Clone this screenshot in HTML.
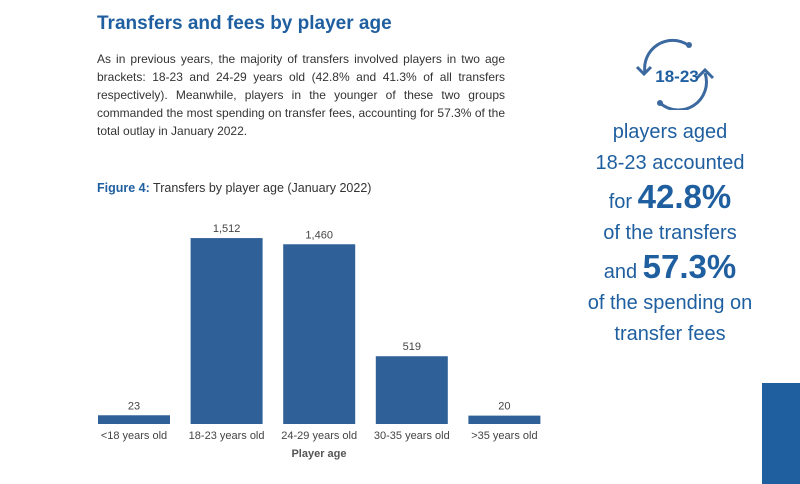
<!DOCTYPE html>
<html><head><meta charset="utf-8"><style>
body{margin:0;width:800px;height:484px;background:#fff;position:relative;overflow:hidden;font-family:"Liberation Sans",sans-serif;}
.abs{position:absolute;}
h1{position:absolute;left:97px;top:13px;margin:0;font-size:19px;color:#1f5fa0;font-weight:bold;}
.intro{left:97px;top:50px;width:408px;font-size:12px;line-height:18px;color:#333;text-align:justify;}
.fig{left:97px;top:181px;font-size:12.5px;color:#333;}
.fig b{color:#1f5fa0;}
.side{left:550px;width:240px;text-align:center;color:#1f5fa0;font-size:20px;line-height:31px;top:117px;}
.big{font-size:33px;font-weight:bold;line-height:36px;}
</style></head><body>
<h1>Transfers and fees by player age</h1>
<div class="abs intro">As in previous years, the majority of transfers involved players in two age brackets: 18-23 and 24-29 years old (42.8% and 41.3% of all transfers respectively). Meanwhile, players in the younger of these two groups commanded the most spending on transfer fees, accounting for 57.3% of the total outlay in January 2022.</div>
<div class="abs fig"><b>Figure 4:</b> Transfers by player age (January 2022)</div>
<svg class="abs" style="left:630px;top:36px" width="90" height="74">
<path d="M58 9 A28 28 0 0 0 15 37" fill="none" stroke="#3c6aa0" stroke-width="3"/>
<circle cx="59" cy="9" r="3" fill="#3c6aa0"/>
<path d="M7 31 L14 38 L21 31" fill="none" stroke="#3c6aa0" stroke-width="3"/>
<path d="M30 67 A28 28 0 0 0 75 37" fill="none" stroke="#3c6aa0" stroke-width="3"/>
<circle cx="30" cy="67" r="3" fill="#3c6aa0"/>
<path d="M67 42 L75 34 L83 42" fill="none" stroke="#3c6aa0" stroke-width="3"/>
<text x="47" y="46" text-anchor="middle" font-family="Liberation Sans" font-weight="bold" font-size="17" fill="#1f5fa0">18-23</text>
</svg>
<div class="abs side">players aged<br>18-23 accounted<br>for <span class="big">42.8%</span><br>of the transfers<br>and <span class="big">57.3%</span><br>of the spending on<br>transfer fees</div>
<div class="abs" style="left:762px;top:383px;width:38px;height:101px;background:#1f5fa0"></div>
<svg id="chart" class="abs" style="left:0;top:0" width="600" height="484"></svg>
<script>
const categories=["<18 years old","18-23 years old","24-29 years old","30-35 years old",">35 years old"];
const values=[23,1512,1460,519,20];
const labels=["23","1,512","1,460","519","20"];
const svg=document.getElementById('chart');
const NS="http://www.w3.org/2000/svg";
const base=424,x0=98,pitch=92.6,bw=72;
function y(v){return base-(6+v*0.119);}
function xb(i){return x0+i*pitch;}
categories.forEach((c,i)=>{
 const r=document.createElementNS(NS,'rect');
 r.setAttribute('x',xb(i));r.setAttribute('y',y(values[i]));r.setAttribute('width',bw);r.setAttribute('height',base-y(values[i]));r.setAttribute('fill','#2f6097');
 
 
 svg.appendChild(r);
 const t=document.createElementNS(NS,'text');
 t.setAttribute('x',xb(i)+bw/2);t.setAttribute('y',y(values[i])-6);t.setAttribute('text-anchor','middle');t.setAttribute('font-size','11');t.setAttribute('fill','#444');t.setAttribute('font-family','Liberation Sans');
 t.textContent=labels[i];
 
 
 svg.appendChild(t);
 const l=document.createElementNS(NS,'text');
 l.setAttribute('x',xb(i)+bw/2);l.setAttribute('y',439);l.setAttribute('text-anchor','middle');l.setAttribute('font-size','11');l.setAttribute('fill','#444');l.setAttribute('font-family','Liberation Sans');
 l.textContent=c;
 
 
 svg.appendChild(l);
});
const at=document.createElementNS(NS,'text');
at.setAttribute('x',319);at.setAttribute('y',457);at.setAttribute('text-anchor','middle');at.setAttribute('font-size','11');at.setAttribute('font-weight','bold');at.setAttribute('fill','#555');at.setAttribute('font-family','Liberation Sans');
at.textContent='Player age';


svg.appendChild(at);
</script>
</body></html>
